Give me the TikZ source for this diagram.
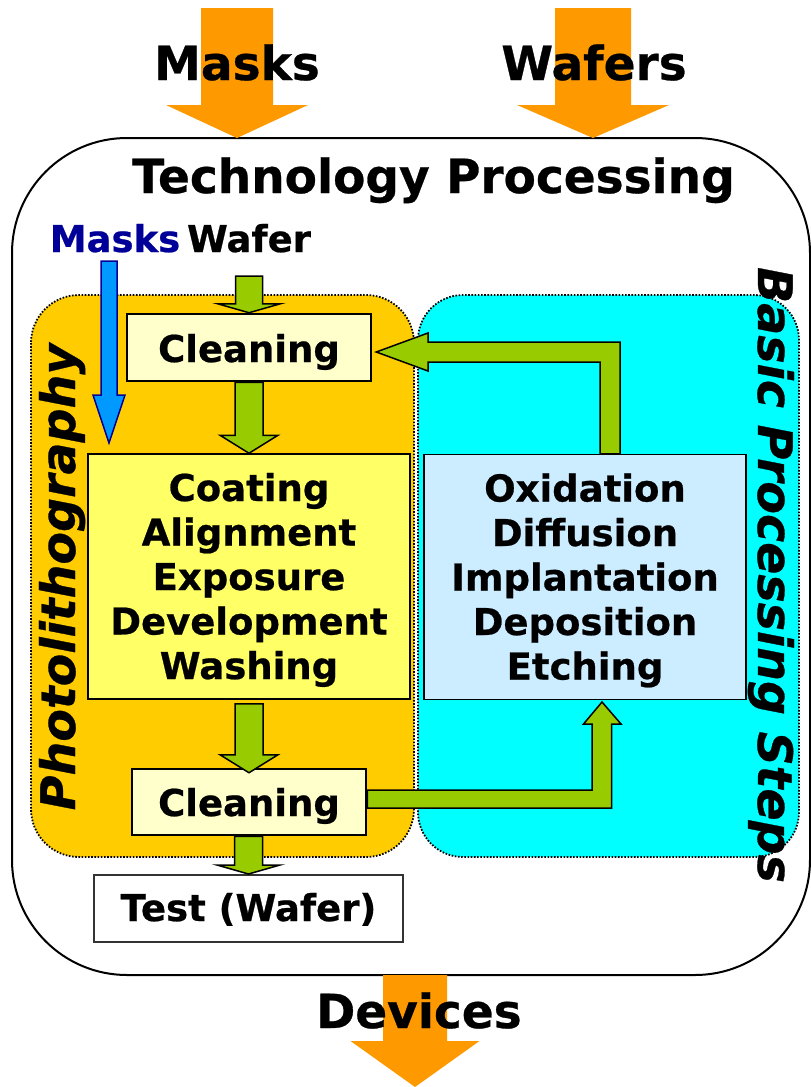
\documentclass[tikz,border=0pt]{standalone}
\usepackage{fontspec}
\setmainfont{DejaVu Sans}[BoldFont={DejaVu Sans Bold},BoldItalicFont={DejaVu Sans Bold Oblique},ItalicFont={DejaVu Sans Oblique},BoldFeatures={FakeBold=0.6},BoldItalicFeatures={FakeBold=0.6}]
\usetikzlibrary{calc}
\definecolor{arrowOrange}{HTML}{FF9900}
\definecolor{regOrange}{HTML}{FFCC00}
\definecolor{regCyan}{HTML}{00FFFF}
\definecolor{arrowGreen}{HTML}{99CC00}
\definecolor{arrowBlue}{HTML}{0099FF}
\definecolor{darkBlue}{HTML}{000099}
\definecolor{coatFill}{HTML}{FFFF66}
\definecolor{cleanFill}{HTML}{FFFFCC}
\definecolor{oxiFill}{HTML}{CCECFF}
\definecolor{testLine}{HTML}{333333}
% fat arrow pointing down: [style]{start}{tip}{half shaft}{half head}{head length}
\newcommand\fatdown[6][garrow]{%
  \path[#1] let \p1=(#2), \p2=(#3) in
    (\x2-#4pt,\y1) -- (\x2+#4pt,\y1) -- (\x2+#4pt,\y2+#6pt) -- (\x2+#5pt,\y2+#6pt)
    -- (\x2,\y2) -- (\x2-#5pt,\y2+#6pt) -- (\x2-#4pt,\y2+#6pt) -- cycle;}
% five centred lines, lowered a little inside their box
\newcommand\fivelines[1]{\raisebox{-4.6pt}[\height][\depth]{\def\arraystretch{1}\begin{tabular}{@{}c@{}}#1\end{tabular}}}
\tikzset{
  garrow/.style={fill=arrowGreen, draw=black, line width=1.5pt, line join=miter},
  oarrow/.style={fill=arrowOrange},
  barrow/.style={fill=arrowBlue, draw=darkBlue, line width=1.5pt},
  region/.style={draw=black, line width=1.8pt, dash pattern=on 1.6pt off 1.6pt},
  biglbl/.style={font=\bfseries\fontsize{47}{50}\selectfont, anchor=base, inner sep=0pt},
  midlbl/.style={font=\bfseries\fontsize{37}{44.5}\selectfont, anchor=base, inner sep=0pt},
  sidelbl/.style={font=\bfseries\itshape\fontsize{47.5}{50}\selectfont, anchor=base, inner sep=0pt},
  onebox/.style={draw=black, line width=2.5pt, inner sep=0pt, font=\bfseries\fontsize{37}{44.5}\selectfont, text depth=0pt},
  listbox/.style={draw=black, line width=1.5pt, inner sep=0pt, minimum width=322pt, minimum height=245pt, font=\bfseries\fontsize{37}{44.5}\selectfont},
}
\begin{document}
\begin{tikzpicture}[x=1pt,y=-1pt]
\useasboundingbox (0,0) rectangle (811,1087);
% outer container
\draw[line width=2pt, rounded corners=115pt] (12,138) rectangle (810,975);
% input / output arrows
\coordinate (mtop) at (237,8);
\coordinate (mtip) at (237,138);
\coordinate (wftop) at (593,8);
\coordinate (wftip) at (593,138);
\coordinate (dtop) at (415,975);
\coordinate (dtip) at (415,1087);
\fatdown[oarrow]{mtop}{mtip}{36}{71}{33}
\fatdown[oarrow]{wftop}{wftip}{38}{76}{33}
\fatdown[oarrow]{dtop}{dtip}{32}{64.5}{46}
\node[biglbl] (masksL) at (237,80) {Masks};
\node[biglbl] (wafersL) at (594,80) {Wafers};
\node[biglbl] (devL) at (419,1028) {Devices};
\node[biglbl] (techL) at (433.5,193) {Technology Processing};
% regions
\draw[region, fill=regCyan, rounded corners=45pt] (418,295) rectangle (799,857);
\draw[region, fill=regOrange, rounded corners=48pt] (31,295) rectangle (414,857);
% boxes
\node[onebox, fill=cleanFill, minimum width=244pt, minimum height=67pt, text height=29pt] (clean1) at (249,347.5) {Cleaning};
\node[listbox, fill=coatFill] (coat) at (249,576.5) {\fivelines{Coating\\Alignment\\Exposure\\Development\\Washing}};
\node[listbox, fill=oxiFill] (oxi) at (585,577) {\fivelines{Oxidation\\Diffusion\\Implantation\\Deposition\\Etching}};
\node[onebox, fill=cleanFill, minimum width=234pt, minimum height=66pt, text height=28pt] (clean2) at (249,802) {Cleaning};
\node[onebox, fill=white, draw=testLine, line width=2pt, minimum width=309pt, minimum height=67pt, text height=25pt] (test) at (248.5,908.5) {Test (Wafer)};
% labels
\node[midlbl, text=darkBlue] (masksS) at (115,252) {Masks};
\node[midlbl] (waferS) at (249,252) {Wafer};
\node[sidelbl, rotate=90] (photo) at (75,577) {Photolithography};
\node[sidelbl, rotate=-90] (basic) at (758,575) {Basic Processing Steps};
% green flow arrows
\coordinate (wtop) at (249,276);
\fatdown{wtop}{clean1.north}{13.5}{31.5}{9}
\fatdown{clean1.south}{coat.north}{14}{29}{18}
\coordinate (ctip) at ($(clean2.north)+(0,5)$);
\fatdown{$(coat.south)+(0,4)$}{ctip}{14}{29}{18}
\fatdown{clean2.south}{test.north}{14}{31.5}{9}
% loop arrows
\path[garrow] (clean2.east |- 0,790) -- (592,790) -- (592,724) -- (583.5,724) -- (602,702)
  -- (621,724) -- (611.5,724) -- (611.5,808) -- (clean2.east |- 0,808) -- cycle;
\coordinate (l1tip) at ($(clean1.east)+(4,4.5)$);
\path[garrow] ($(oxi.north)+(15,0)$) -- (600,362) -- (428,362) -- (428,371) -- (l1tip)
  -- (428,333) -- (428,342) -- (620,342) -- ($(oxi.north)+(35,0)$) -- cycle;
% masks arrow
\coordinate (btop) at (109,261);
\coordinate (btip) at (109,443);
\fatdown[barrow]{btop}{btip}{8}{16}{48}
\end{tikzpicture}
\end{document}
